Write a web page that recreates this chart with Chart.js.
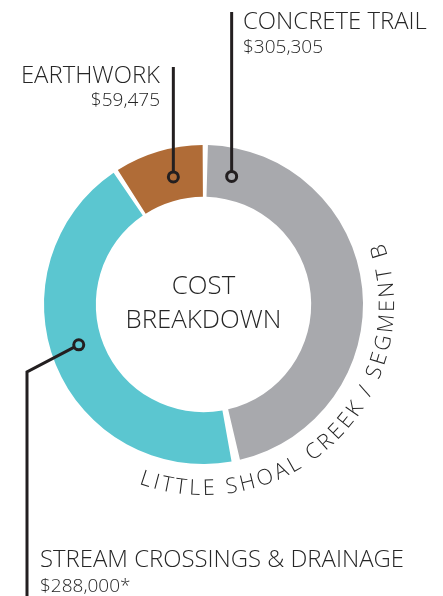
<!DOCTYPE html>
<html>
<head>
<meta charset="utf-8">
<title>Cost Breakdown</title>
<script src="https://cdn.jsdelivr.net/npm/chart.js@4"></script>
<style>
    html, body { margin: 0; padding: 0; background: #ffffff; }
    #wrap { position: relative; width: 443px; height: 596px; }
</style>
</head>
<body>
<div id="wrap"><canvas id="costChart"></canvas></div>
<script>
/* ==========================================
   DATA
========================================== */

const categories = ["CONCRETE TRAIL", "STREAM CROSSINGS & DRAINAGE", "EARTHWORK"];
const costs = [305305, 288000, 59475];
const footnotes = ["", "*", ""];
const sliceColors = ["#a8a9ad", "#5bc6d0", "#b06c37"];

const centerTitle = ["COST", "BREAKDOWN"];
const ringTitle = "LITTLE SHOAL CREEK / SEGMENT B";


/* ==========================================
   STYLE
========================================== */

const FONT = '"Open Sans", sans-serif';
const WEIGHT = "300";
const INK = "#262626";
const LEADER = "#231f20";

// where each callout sits: angle on the ring (deg, clockwise from top)
const callouts = [
    { index: 0, angle: 12.4, lineTo: 12, labelX: 243, base: [29, 52.5], align: "left" },
    { index: 2, angle: 346.7, lineTo: 67, labelX: 160, base: [83, 106], align: "right" },
    { index: 1, angle: 252.1, elbowX: 27, elbowY: 372, lineTo: 596, labelX: 40, base: [567, 592], align: "left" }
];

function money(v) {
    return "$" + v.toLocaleString("en-US");
}


/* ==========================================
   CALLOUTS, CENTER TEXT AND RING TITLE
========================================== */

const costCallouts = {

    id: "costCallouts",

    afterDatasetsDraw(chart) {

        const ctx = chart.ctx;
        const arc = chart.getDatasetMeta(0).data[0];
        const cx = arc.x;
        const cy = arc.y;
        const midR = (arc.innerRadius + arc.outerRadius) / 2;

        ctx.save();

        // leader lines + ring markers
        callouts.forEach(c => {

            const a = c.angle * Math.PI / 180;
            const px = cx + midR * Math.sin(a);
            const py = cy - midR * Math.cos(a);
            const dotR = 5;

            ctx.strokeStyle = LEADER;
            ctx.lineWidth = 3;

            ctx.beginPath();
            if (c.elbowX !== undefined) {
                const dx = c.elbowX - px;
                const dy = c.elbowY - py;
                const d = Math.hypot(dx, dy);
                ctx.moveTo(px + dx / d * dotR, py + dy / d * dotR);
                ctx.lineTo(c.elbowX, c.elbowY);
                ctx.lineTo(c.elbowX, c.lineTo);
            } else {
                ctx.moveTo(px, py - dotR);
                ctx.lineTo(px, c.lineTo);
            }
            ctx.stroke();

            ctx.beginPath();
            ctx.arc(px, py, dotR, 0, Math.PI * 2);
            ctx.stroke();

            // label text
            ctx.fillStyle = INK;
            ctx.textAlign = c.align;
            ctx.textBaseline = "alphabetic";
            ctx.font = WEIGHT + " 23.9px " + FONT;
            ctx.fillText(categories[c.index], c.labelX, c.base[0]);
            ctx.font = WEIGHT + " 19px " + FONT;
            ctx.fillText(money(costs[c.index]) + footnotes[c.index], c.labelX, c.base[1]);
        });

        // center title
        ctx.fillStyle = INK;
        ctx.textAlign = "center";
        ctx.font = WEIGHT + " 25.8px " + FONT;
        ctx.fillText(centerTitle[0], cx, cy - 10.5);
        ctx.fillText(centerTitle[1], cx, cy + 23.5);

        // ring title, bent round the outside of the ring
        const r = arc.outerRadius + 33.5;
        const spacing = 3.15;
        ctx.font = WEIGHT + " 21.5px " + FONT;
        ctx.textAlign = "center";

        let total = 0;
        const widths = [...ringTitle].map(ch => ctx.measureText(ch).width);
        widths.forEach(w => total += w + spacing);
        total -= spacing;

        const midAngle = 135.5 * Math.PI / 180;
        let theta = midAngle + total / 2 / r;

        [...ringTitle].forEach((ch, i) => {
            const w = widths[i];
            const t = theta - w / 2 / r;
            ctx.save();
            ctx.translate(cx + r * Math.sin(t), cy - r * Math.cos(t));
            ctx.rotate(t - Math.PI);
            ctx.fillText(ch, 0, 0);
            ctx.restore();
            theta -= (w + spacing) / r;
        });

        ctx.restore();
    }
};


/* ==========================================
   DOUGHNUT
========================================== */

new Chart(document.getElementById("costChart"), {

    type: "doughnut",

    data: {
        labels: categories,
        datasets: [{
            data: costs,
            backgroundColor: sliceColors,
            borderWidth: 0,
            spacing: 5
        }]
    },

    options: {
        responsive: true,
        maintainAspectRatio: false,
        animation: false,
        cutout: "67%",
        layout: {
            padding: { left: 44, right: 80, top: 145, bottom: 132 }
        },
        plugins: {
            legend: { display: false },
            tooltip: { enabled: false }
        }
    },

    plugins: [costCallouts]

});
</script>
</body>
</html>
